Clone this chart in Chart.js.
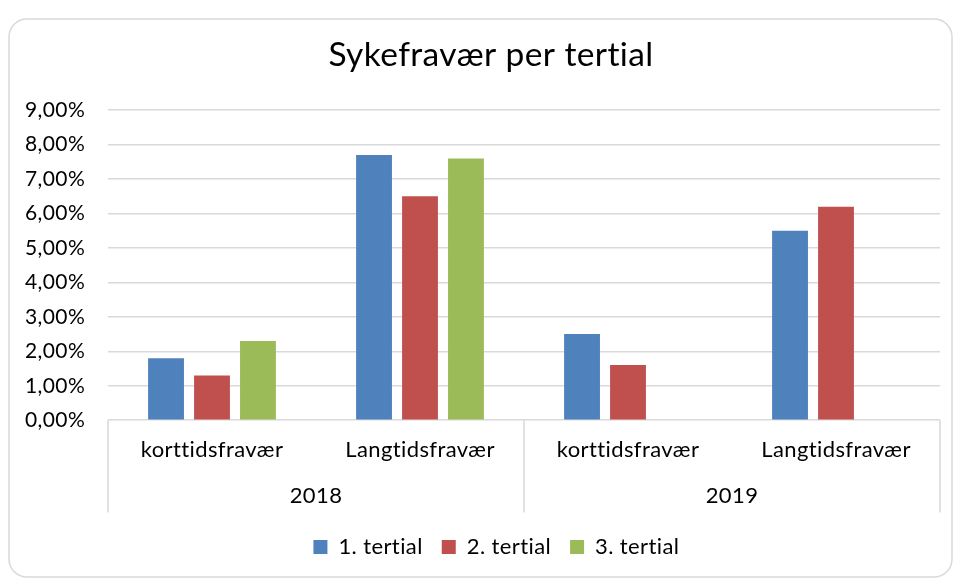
<!DOCTYPE html>
<html>
<head>
<meta charset="utf-8">
<script src="https://cdn.jsdelivr.net/npm/chart.js@4.4.0/dist/chart.umd.min.js"></script>
<style>
  html, body { margin: 0; padding: 0; background: #fff; }
  #wrap { width: 957px; height: 579px; position: relative; }
</style>
</head>
<body>
<div id="wrap"><canvas id="sykeChart"></canvas></div>
<script>
// data (percent)
const typer = ['korttidsfravær', 'Langtidsfravær', 'korttidsfravær', 'Langtidsfravær'];
const aar = ['2018', '2019'];
const tertial1 = [1.8, 7.7, 2.5, 5.5];
const tertial2 = [1.3, 6.5, 1.6, 6.2];
const tertial3 = [2.3, 7.6, null, null];
const serieNavn = ['1. tertial', '2. tertial', '3. tertial'];
const farger = ['#4F81BD', '#C0504D', '#9BBB59'];

const fontFam = 'Lato, "Noto Sans", sans-serif';
const linjeFarge = '#d9d9d9';
const etikettSize = 22;
const linjeH = Math.round(etikettSize * 1.2);
const aarPad = 2;

// rounded outer frame and the category separators under the axis
const rammePlugin = {
  id: 'ramme',
  beforeDraw(chart) {
    const ctx = chart.ctx;
    // small letter spacing keeps Lato from joining "ti"
    ctx.letterSpacing = '0.4px';
    ctx.save();
    ctx.strokeStyle = linjeFarge;
    ctx.lineWidth = 1.5;
    ctx.beginPath();
    ctx.roundRect(9, 19, 943, 558, 18);
    ctx.stroke();
    ctx.restore();
  },
  afterDraw(chart) {
    const x = chart.scales.x;
    const x2 = chart.scales.x2;
    const ctx = chart.ctx;
    const midt = (x.getPixelForValue(1) + x.getPixelForValue(2)) / 2;
    const bunn = x2.top + aarPad + linjeH / 2 + 17;
    ctx.save();
    ctx.strokeStyle = linjeFarge;
    ctx.lineWidth = 1.5;
    ctx.beginPath();
    [x.left, midt, x.right].forEach(px => {
      ctx.moveTo(px, x.top);
      ctx.lineTo(px, bunn);
    });
    ctx.stroke();
    ctx.restore();
  }
};

const datasets = serieNavn.map((navn, i) => ({
  label: navn,
  data: [tertial1, tertial2, tertial3][i],
  backgroundColor: farger[i],
  borderWidth: 0,
  categoryPercentage: 0.663,
  barPercentage: 0.78,
  xAxisID: 'x'
}));

new Chart(document.getElementById('sykeChart'), {
  type: 'bar',
  data: { labels: typer, datasets: datasets },
  plugins: [rammePlugin],
  options: {
    responsive: true,
    maintainAspectRatio: false,
    animation: false,
    layout: { padding: { left: 42, right: 17, top: 20, bottom: 11 } },
    plugins: {
      title: {
        display: true,
        text: 'Sykefravær per tertial',
        color: '#000',
        font: { family: fontFam, size: 33.5, weight: 'normal' },
        padding: { top: 15, bottom: 35 }
      },
      legend: {
        position: 'bottom',
        labels: {
          color: '#000',
          font: { family: fontFam, size: etikettSize },
          boxWidth: 14,
          boxHeight: 14,
          padding: 19
        }
      },
      tooltip: { enabled: false }
    },
    scales: {
      y: {
        min: 0,
        max: 9,
        ticks: {
          stepSize: 1,
          color: '#000',
          // mirrored labels pulled back left of the axis so they are not clipped
          mirror: true,
          crossAlign: 'near',
          padding: -83,
          font: { family: fontFam, size: 21 },
          callback: v => v.toFixed(2).replace('.', ',') + '%'
        },
        grid: { color: linjeFarge, lineWidth: 1.5, drawTicks: false },
        border: { display: false },
        afterFit(scale) { scale.width = 66; }
      },
      x: {
        weight: 0,
        ticks: {
          color: '#000',
          padding: 17,
          maxRotation: 0,
          autoSkip: false,
          font: { family: fontFam, size: etikettSize }
        },
        grid: { display: false, drawTicks: false },
        border: { display: false }
      },
      x2: {
        type: 'category',
        position: 'bottom',
        weight: 1,
        labels: aar,
        offset: true,
        ticks: {
          color: '#000',
          padding: aarPad,
          maxRotation: 0,
          font: { family: fontFam, size: etikettSize }
        },
        grid: { display: false, drawTicks: false },
        border: { display: false },
        afterFit(scale) { scale.height += 6; }
      }
    }
  }
});
</script>
</body>
</html>
